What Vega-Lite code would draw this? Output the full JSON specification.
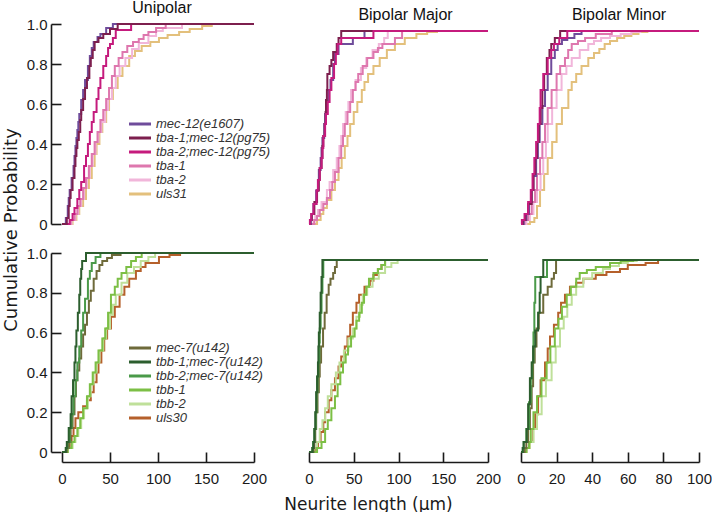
{
"$schema":"https://vega.github.io/schema/vega-lite/v6.json",
"padding":{"left":3,"top":0,"right":0,"bottom":0},
"autosize":{"type":"pad"},
"title":{"text":"Cumulative Probability","orient":"left","anchor":"middle","frame":"bounds","font":"DejaVu Sans","fontSize":18,"fontWeight":"normal","color":"#1a1a1a","offset":5,"dx":26},
"columns":3,"align":"each","bounds":"full","spacing":{"row":14,"column":10},
"resolve":{"scale":{"x":"independent","y":"independent","color":"independent"},"legend":{"color":"independent"}},
"config":{
 "font":"Liberation Sans",
 "view":{"stroke":null},
 "axis":{"grid":false,"labelFlush":false,"domainColor":"#1a1a1a","tickColor":"#1a1a1a","domainWidth":1.6,"tickWidth":1.6,"labelColor":"#1a1a1a","labelFontSize":15,"labelFont":"Liberation Sans","titleFont":"DejaVu Sans","titleFontWeight":"normal","titleColor":"#1a1a1a","titleFontSize":17},
 "title":{"fontSize":16,"fontWeight":"normal","color":"#111111","font":"Liberation Sans","offset":1},
 "legend":{"symbolType":"stroke","symbolSize":484,"symbolStrokeWidth":3,"clipHeight":13,"labelFont":"Liberation Sans","labelFontStyle":"italic","labelFontSize":13,"labelColor":"#333333","labelOffset":3.5,"rowPadding":-1.2,"padding":0,"title":null}
},
"datasets":{
"ut":[
{"g":"uls31","x":0,"p":0},{"g":"uls31","x":11,"p":0.02},{"g":"uls31","x":15,"p":0.05},{"g":"uls31","x":18,"p":0.09},{"g":"uls31","x":22,"p":0.125},{"g":"uls31","x":25,"p":0.18},{"g":"uls31","x":28,"p":0.23},{"g":"uls31","x":31,"p":0.29},{"g":"uls31","x":34,"p":0.35},{"g":"uls31","x":36,"p":0.4},{"g":"uls31","x":39,"p":0.46},{"g":"uls31","x":42,"p":0.51},{"g":"uls31","x":46,"p":0.57},{"g":"uls31","x":49,"p":0.625},{"g":"uls31","x":53,"p":0.68},{"g":"uls31","x":58,"p":0.74},{"g":"uls31","x":63,"p":0.79},{"g":"uls31","x":70,"p":0.84},{"g":"uls31","x":76,"p":0.865},{"g":"uls31","x":83,"p":0.89},{"g":"uls31","x":92,"p":0.91},{"g":"uls31","x":101,"p":0.93},{"g":"uls31","x":110,"p":0.945},{"g":"uls31","x":122,"p":0.96},{"g":"uls31","x":133,"p":0.975},{"g":"uls31","x":146,"p":0.99},{"g":"uls31","x":156,"p":1},{"g":"uls31","x":200,"p":1},
{"g":"tba-2","x":0,"p":0},{"g":"tba-2","x":10,"p":0.02},{"g":"tba-2","x":14,"p":0.05},{"g":"tba-2","x":17,"p":0.09},{"g":"tba-2","x":20,"p":0.125},{"g":"tba-2","x":23,"p":0.18},{"g":"tba-2","x":26,"p":0.23},{"g":"tba-2","x":29,"p":0.29},{"g":"tba-2","x":32,"p":0.35},{"g":"tba-2","x":35,"p":0.41},{"g":"tba-2","x":38,"p":0.46},{"g":"tba-2","x":41,"p":0.51},{"g":"tba-2","x":45,"p":0.57},{"g":"tba-2","x":48,"p":0.625},{"g":"tba-2","x":52,"p":0.68},{"g":"tba-2","x":56,"p":0.74},{"g":"tba-2","x":60,"p":0.79},{"g":"tba-2","x":66,"p":0.83},{"g":"tba-2","x":73,"p":0.875},{"g":"tba-2","x":80,"p":0.905},{"g":"tba-2","x":90,"p":0.94},{"g":"tba-2","x":98,"p":0.965},{"g":"tba-2","x":105,"p":0.98},{"g":"tba-2","x":125,"p":1},{"g":"tba-2","x":200,"p":1},
{"g":"tba-1","x":0,"p":0},{"g":"tba-1","x":9,"p":0.02},{"g":"tba-1","x":13,"p":0.05},{"g":"tba-1","x":16,"p":0.09},{"g":"tba-1","x":19,"p":0.125},{"g":"tba-1","x":22,"p":0.18},{"g":"tba-1","x":25,"p":0.23},{"g":"tba-1","x":28,"p":0.29},{"g":"tba-1","x":31,"p":0.35},{"g":"tba-1","x":34,"p":0.41},{"g":"tba-1","x":37,"p":0.46},{"g":"tba-1","x":40,"p":0.52},{"g":"tba-1","x":43,"p":0.57},{"g":"tba-1","x":46,"p":0.625},{"g":"tba-1","x":49,"p":0.68},{"g":"tba-1","x":52,"p":0.74},{"g":"tba-1","x":55,"p":0.79},{"g":"tba-1","x":59,"p":0.83},{"g":"tba-1","x":63,"p":0.86},{"g":"tba-1","x":68,"p":0.89},{"g":"tba-1","x":74,"p":0.91},{"g":"tba-1","x":80,"p":0.925},{"g":"tba-1","x":85,"p":0.945},{"g":"tba-1","x":90,"p":0.96},{"g":"tba-1","x":98,"p":0.98},{"g":"tba-1","x":108,"p":1},{"g":"tba-1","x":200,"p":1},
{"g":"mec-12(e1607)","x":0,"p":0},{"g":"mec-12(e1607)","x":4,"p":0.03},{"g":"mec-12(e1607)","x":6,"p":0.09},{"g":"mec-12(e1607)","x":7,"p":0.13},{"g":"mec-12(e1607)","x":8,"p":0.17},{"g":"mec-12(e1607)","x":10,"p":0.23},{"g":"mec-12(e1607)","x":12,"p":0.29},{"g":"mec-12(e1607)","x":13,"p":0.34},{"g":"mec-12(e1607)","x":14,"p":0.39},{"g":"mec-12(e1607)","x":15,"p":0.43},{"g":"mec-12(e1607)","x":16,"p":0.47},{"g":"mec-12(e1607)","x":17,"p":0.51},{"g":"mec-12(e1607)","x":18,"p":0.55},{"g":"mec-12(e1607)","x":20,"p":0.62},{"g":"mec-12(e1607)","x":22,"p":0.67},{"g":"mec-12(e1607)","x":24,"p":0.72},{"g":"mec-12(e1607)","x":27,"p":0.79},{"g":"mec-12(e1607)","x":29,"p":0.84},{"g":"mec-12(e1607)","x":31,"p":0.88},{"g":"mec-12(e1607)","x":33,"p":0.91},{"g":"mec-12(e1607)","x":37,"p":0.935},{"g":"mec-12(e1607)","x":40,"p":0.95},{"g":"mec-12(e1607)","x":46,"p":0.98},{"g":"mec-12(e1607)","x":53,"p":1},{"g":"mec-12(e1607)","x":200,"p":1},
{"g":"tba-2;mec-12(pg75)","x":0,"p":0},{"g":"tba-2;mec-12(pg75)","x":8,"p":0.02},{"g":"tba-2;mec-12(pg75)","x":11,"p":0.05},{"g":"tba-2;mec-12(pg75)","x":13,"p":0.08},{"g":"tba-2;mec-12(pg75)","x":16,"p":0.125},{"g":"tba-2;mec-12(pg75)","x":18,"p":0.17},{"g":"tba-2;mec-12(pg75)","x":20,"p":0.21},{"g":"tba-2;mec-12(pg75)","x":23,"p":0.29},{"g":"tba-2;mec-12(pg75)","x":25,"p":0.34},{"g":"tba-2;mec-12(pg75)","x":27,"p":0.4},{"g":"tba-2;mec-12(pg75)","x":29,"p":0.46},{"g":"tba-2;mec-12(pg75)","x":31,"p":0.51},{"g":"tba-2;mec-12(pg75)","x":33,"p":0.56},{"g":"tba-2;mec-12(pg75)","x":36,"p":0.625},{"g":"tba-2;mec-12(pg75)","x":38,"p":0.68},{"g":"tba-2;mec-12(pg75)","x":40,"p":0.73},{"g":"tba-2;mec-12(pg75)","x":43,"p":0.79},{"g":"tba-2;mec-12(pg75)","x":46,"p":0.84},{"g":"tba-2;mec-12(pg75)","x":48,"p":0.88},{"g":"tba-2;mec-12(pg75)","x":50,"p":0.9},{"g":"tba-2;mec-12(pg75)","x":53,"p":0.93},{"g":"tba-2;mec-12(pg75)","x":56,"p":0.97},{"g":"tba-2;mec-12(pg75)","x":72,"p":1},{"g":"tba-2;mec-12(pg75)","x":200,"p":1},
{"g":"tba-1;mec-12(pg75)","x":0,"p":0},{"g":"tba-1;mec-12(pg75)","x":5,"p":0.03},{"g":"tba-1;mec-12(pg75)","x":7,"p":0.09},{"g":"tba-1;mec-12(pg75)","x":8,"p":0.13},{"g":"tba-1;mec-12(pg75)","x":9,"p":0.17},{"g":"tba-1;mec-12(pg75)","x":11,"p":0.23},{"g":"tba-1;mec-12(pg75)","x":13,"p":0.29},{"g":"tba-1;mec-12(pg75)","x":14,"p":0.34},{"g":"tba-1;mec-12(pg75)","x":15,"p":0.38},{"g":"tba-1;mec-12(pg75)","x":16,"p":0.42},{"g":"tba-1;mec-12(pg75)","x":17.5,"p":0.46},{"g":"tba-1;mec-12(pg75)","x":19,"p":0.52},{"g":"tba-1;mec-12(pg75)","x":20,"p":0.57},{"g":"tba-1;mec-12(pg75)","x":22,"p":0.625},{"g":"tba-1;mec-12(pg75)","x":24,"p":0.68},{"g":"tba-1;mec-12(pg75)","x":26,"p":0.73},{"g":"tba-1;mec-12(pg75)","x":28.5,"p":0.79},{"g":"tba-1;mec-12(pg75)","x":30,"p":0.83},{"g":"tba-1;mec-12(pg75)","x":32,"p":0.87},{"g":"tba-1;mec-12(pg75)","x":34,"p":0.91},{"g":"tba-1;mec-12(pg75)","x":38,"p":0.93},{"g":"tba-1;mec-12(pg75)","x":43,"p":0.95},{"g":"tba-1;mec-12(pg75)","x":50,"p":0.975},{"g":"tba-1;mec-12(pg75)","x":58,"p":1},{"g":"tba-1;mec-12(pg75)","x":200,"p":1}
],
"ub":[
{"g":"uls30","x":0,"p":0},{"g":"uls30","x":5,"p":0.02},{"g":"uls30","x":8,"p":0.05},{"g":"uls30","x":10,"p":0.08},{"g":"uls30","x":12,"p":0.12},{"g":"uls30","x":14,"p":0.17},{"g":"uls30","x":17,"p":0.2},{"g":"uls30","x":22,"p":0.23},{"g":"uls30","x":26,"p":0.26},{"g":"uls30","x":30,"p":0.3},{"g":"uls30","x":33,"p":0.35},{"g":"uls30","x":36,"p":0.4},{"g":"uls30","x":38,"p":0.45},{"g":"uls30","x":41,"p":0.51},{"g":"uls30","x":44,"p":0.57},{"g":"uls30","x":47,"p":0.62},{"g":"uls30","x":51,"p":0.68},{"g":"uls30","x":55,"p":0.73},{"g":"uls30","x":60,"p":0.79},{"g":"uls30","x":65,"p":0.83},{"g":"uls30","x":70,"p":0.87},{"g":"uls30","x":77,"p":0.91},{"g":"uls30","x":82,"p":0.93},{"g":"uls30","x":87,"p":0.95},{"g":"uls30","x":101,"p":0.98},{"g":"uls30","x":112,"p":0.99},{"g":"uls30","x":123,"p":1},{"g":"uls30","x":200,"p":1},
{"g":"tbb-2","x":0,"p":0},{"g":"tbb-2","x":6,"p":0.02},{"g":"tbb-2","x":11,"p":0.05},{"g":"tbb-2","x":14,"p":0.08},{"g":"tbb-2","x":17,"p":0.12},{"g":"tbb-2","x":20,"p":0.17},{"g":"tbb-2","x":23,"p":0.22},{"g":"tbb-2","x":27,"p":0.28},{"g":"tbb-2","x":30,"p":0.34},{"g":"tbb-2","x":33,"p":0.4},{"g":"tbb-2","x":36,"p":0.45},{"g":"tbb-2","x":39,"p":0.51},{"g":"tbb-2","x":43,"p":0.57},{"g":"tbb-2","x":46,"p":0.62},{"g":"tbb-2","x":50,"p":0.69},{"g":"tbb-2","x":53,"p":0.74},{"g":"tbb-2","x":56,"p":0.79},{"g":"tbb-2","x":62,"p":0.85},{"g":"tbb-2","x":68,"p":0.9},{"g":"tbb-2","x":75,"p":0.93},{"g":"tbb-2","x":82,"p":0.96},{"g":"tbb-2","x":90,"p":0.98},{"g":"tbb-2","x":97,"p":1},{"g":"tbb-2","x":200,"p":1},
{"g":"tbb-1","x":0,"p":0},{"g":"tbb-1","x":6,"p":0.02},{"g":"tbb-1","x":10,"p":0.05},{"g":"tbb-1","x":13,"p":0.08},{"g":"tbb-1","x":16,"p":0.12},{"g":"tbb-1","x":19,"p":0.17},{"g":"tbb-1","x":22,"p":0.22},{"g":"tbb-1","x":26,"p":0.28},{"g":"tbb-1","x":29,"p":0.34},{"g":"tbb-1","x":32,"p":0.4},{"g":"tbb-1","x":35,"p":0.45},{"g":"tbb-1","x":38,"p":0.51},{"g":"tbb-1","x":42,"p":0.57},{"g":"tbb-1","x":45,"p":0.62},{"g":"tbb-1","x":48,"p":0.7},{"g":"tbb-1","x":51,"p":0.79},{"g":"tbb-1","x":55,"p":0.83},{"g":"tbb-1","x":58,"p":0.87},{"g":"tbb-1","x":62,"p":0.9},{"g":"tbb-1","x":67,"p":0.93},{"g":"tbb-1","x":72,"p":0.96},{"g":"tbb-1","x":77,"p":0.98},{"g":"tbb-1","x":83,"p":1},{"g":"tbb-1","x":200,"p":1},
{"g":"mec-7(u142)","x":0,"p":0},{"g":"mec-7(u142)","x":5,"p":0.02},{"g":"mec-7(u142)","x":7,"p":0.05},{"g":"mec-7(u142)","x":9,"p":0.12},{"g":"mec-7(u142)","x":11,"p":0.19},{"g":"mec-7(u142)","x":13,"p":0.28},{"g":"mec-7(u142)","x":14.5,"p":0.36},{"g":"mec-7(u142)","x":16,"p":0.41},{"g":"mec-7(u142)","x":18,"p":0.47},{"g":"mec-7(u142)","x":20,"p":0.53},{"g":"mec-7(u142)","x":22,"p":0.59},{"g":"mec-7(u142)","x":24,"p":0.64},{"g":"mec-7(u142)","x":26,"p":0.7},{"g":"mec-7(u142)","x":28,"p":0.76},{"g":"mec-7(u142)","x":30,"p":0.81},{"g":"mec-7(u142)","x":33,"p":0.87},{"g":"mec-7(u142)","x":36,"p":0.91},{"g":"mec-7(u142)","x":39,"p":0.94},{"g":"mec-7(u142)","x":42,"p":0.96},{"g":"mec-7(u142)","x":47,"p":0.975},{"g":"mec-7(u142)","x":52,"p":0.99},{"g":"mec-7(u142)","x":61,"p":1},{"g":"mec-7(u142)","x":200,"p":1},
{"g":"tbb-2;mec-7(u142)","x":0,"p":0},{"g":"tbb-2;mec-7(u142)","x":4,"p":0.02},{"g":"tbb-2;mec-7(u142)","x":5.5,"p":0.05},{"g":"tbb-2;mec-7(u142)","x":8,"p":0.12},{"g":"tbb-2;mec-7(u142)","x":10,"p":0.19},{"g":"tbb-2;mec-7(u142)","x":12,"p":0.28},{"g":"tbb-2;mec-7(u142)","x":14,"p":0.36},{"g":"tbb-2;mec-7(u142)","x":16,"p":0.45},{"g":"tbb-2;mec-7(u142)","x":18,"p":0.53},{"g":"tbb-2;mec-7(u142)","x":20,"p":0.61},{"g":"tbb-2;mec-7(u142)","x":22,"p":0.7},{"g":"tbb-2;mec-7(u142)","x":24,"p":0.77},{"g":"tbb-2;mec-7(u142)","x":27,"p":0.87},{"g":"tbb-2;mec-7(u142)","x":29,"p":0.91},{"g":"tbb-2;mec-7(u142)","x":31,"p":0.95},{"g":"tbb-2;mec-7(u142)","x":35,"p":0.98},{"g":"tbb-2;mec-7(u142)","x":40,"p":1},{"g":"tbb-2;mec-7(u142)","x":200,"p":1},
{"g":"tbb-1;mec-7(u142)","x":0,"p":0},{"g":"tbb-1;mec-7(u142)","x":4,"p":0.02},{"g":"tbb-1;mec-7(u142)","x":5,"p":0.05},{"g":"tbb-1;mec-7(u142)","x":7,"p":0.12},{"g":"tbb-1;mec-7(u142)","x":9,"p":0.19},{"g":"tbb-1;mec-7(u142)","x":10,"p":0.28},{"g":"tbb-1;mec-7(u142)","x":11.5,"p":0.36},{"g":"tbb-1;mec-7(u142)","x":13,"p":0.45},{"g":"tbb-1;mec-7(u142)","x":14,"p":0.53},{"g":"tbb-1;mec-7(u142)","x":15,"p":0.61},{"g":"tbb-1;mec-7(u142)","x":16.5,"p":0.7},{"g":"tbb-1;mec-7(u142)","x":18,"p":0.79},{"g":"tbb-1;mec-7(u142)","x":19,"p":0.87},{"g":"tbb-1;mec-7(u142)","x":20,"p":0.92},{"g":"tbb-1;mec-7(u142)","x":21,"p":0.96},{"g":"tbb-1;mec-7(u142)","x":25,"p":1},{"g":"tbb-1;mec-7(u142)","x":200,"p":1}
],
"mt":[
{"g":"uls31","x":0,"p":0},{"g":"uls31","x":9,"p":0.02},{"g":"uls31","x":13,"p":0.05},{"g":"uls31","x":16,"p":0.08},{"g":"uls31","x":20,"p":0.12},{"g":"uls31","x":25,"p":0.17},{"g":"uls31","x":29,"p":0.22},{"g":"uls31","x":33,"p":0.28},{"g":"uls31","x":36.5,"p":0.33},{"g":"uls31","x":40,"p":0.39},{"g":"uls31","x":43,"p":0.44},{"g":"uls31","x":46,"p":0.5},{"g":"uls31","x":50,"p":0.56},{"g":"uls31","x":54,"p":0.61},{"g":"uls31","x":59,"p":0.67},{"g":"uls31","x":62,"p":0.71},{"g":"uls31","x":66,"p":0.75},{"g":"uls31","x":72,"p":0.79},{"g":"uls31","x":79,"p":0.83},{"g":"uls31","x":87,"p":0.87},{"g":"uls31","x":96,"p":0.9},{"g":"uls31","x":107,"p":0.93},{"g":"uls31","x":120,"p":0.95},{"g":"uls31","x":132,"p":0.96},{"g":"uls31","x":143,"p":0.965},{"g":"uls31","x":200,"p":0.965},
{"g":"tba-2","x":0,"p":0},{"g":"tba-2","x":5,"p":0.02},{"g":"tba-2","x":7,"p":0.04},{"g":"tba-2","x":10,"p":0.07},{"g":"tba-2","x":14,"p":0.11},{"g":"tba-2","x":20,"p":0.17},{"g":"tba-2","x":23,"p":0.21},{"g":"tba-2","x":27,"p":0.27},{"g":"tba-2","x":31,"p":0.33},{"g":"tba-2","x":34,"p":0.39},{"g":"tba-2","x":36,"p":0.44},{"g":"tba-2","x":38,"p":0.5},{"g":"tba-2","x":41,"p":0.56},{"g":"tba-2","x":44,"p":0.61},{"g":"tba-2","x":47,"p":0.67},{"g":"tba-2","x":52,"p":0.72},{"g":"tba-2","x":58,"p":0.78},{"g":"tba-2","x":64,"p":0.83},{"g":"tba-2","x":71,"p":0.87},{"g":"tba-2","x":78,"p":0.9},{"g":"tba-2","x":84,"p":0.93},{"g":"tba-2","x":88,"p":0.965},{"g":"tba-2","x":200,"p":0.965},
{"g":"tba-1","x":0,"p":0},{"g":"tba-1","x":6,"p":0.02},{"g":"tba-1","x":9,"p":0.04},{"g":"tba-1","x":12,"p":0.07},{"g":"tba-1","x":16,"p":0.1},{"g":"tba-1","x":20,"p":0.13},{"g":"tba-1","x":23.5,"p":0.17},{"g":"tba-1","x":26,"p":0.21},{"g":"tba-1","x":29,"p":0.26},{"g":"tba-1","x":33,"p":0.33},{"g":"tba-1","x":36,"p":0.39},{"g":"tba-1","x":38,"p":0.44},{"g":"tba-1","x":40,"p":0.5},{"g":"tba-1","x":43,"p":0.56},{"g":"tba-1","x":46,"p":0.61},{"g":"tba-1","x":49,"p":0.67},{"g":"tba-1","x":52,"p":0.71},{"g":"tba-1","x":55,"p":0.75},{"g":"tba-1","x":60,"p":0.79},{"g":"tba-1","x":65,"p":0.83},{"g":"tba-1","x":72,"p":0.86},{"g":"tba-1","x":77,"p":0.88},{"g":"tba-1","x":82,"p":0.9},{"g":"tba-1","x":96,"p":0.93},{"g":"tba-1","x":104,"p":0.965},{"g":"tba-1","x":200,"p":0.965},
{"g":"mec-12(e1607)","x":0,"p":0},{"g":"mec-12(e1607)","x":2,"p":0.02},{"g":"mec-12(e1607)","x":3,"p":0.05},{"g":"mec-12(e1607)","x":5,"p":0.1},{"g":"mec-12(e1607)","x":8,"p":0.167},{"g":"mec-12(e1607)","x":10,"p":0.22},{"g":"mec-12(e1607)","x":11,"p":0.27},{"g":"mec-12(e1607)","x":13,"p":0.33},{"g":"mec-12(e1607)","x":14,"p":0.38},{"g":"mec-12(e1607)","x":15,"p":0.43},{"g":"mec-12(e1607)","x":17,"p":0.5},{"g":"mec-12(e1607)","x":18,"p":0.55},{"g":"mec-12(e1607)","x":20,"p":0.61},{"g":"mec-12(e1607)","x":22,"p":0.67},{"g":"mec-12(e1607)","x":24,"p":0.72},{"g":"mec-12(e1607)","x":27,"p":0.8},{"g":"mec-12(e1607)","x":29,"p":0.85},{"g":"mec-12(e1607)","x":33,"p":0.9},{"g":"mec-12(e1607)","x":49,"p":0.93},{"g":"mec-12(e1607)","x":62,"p":0.965},{"g":"mec-12(e1607)","x":200,"p":0.965},
{"g":"tba-1;mec-12(pg75)","x":0,"p":0},{"g":"tba-1;mec-12(pg75)","x":1.5,"p":0.02},{"g":"tba-1;mec-12(pg75)","x":3,"p":0.05},{"g":"tba-1;mec-12(pg75)","x":6,"p":0.11},{"g":"tba-1;mec-12(pg75)","x":9,"p":0.167},{"g":"tba-1;mec-12(pg75)","x":11,"p":0.22},{"g":"tba-1;mec-12(pg75)","x":12,"p":0.28},{"g":"tba-1;mec-12(pg75)","x":14,"p":0.33},{"g":"tba-1;mec-12(pg75)","x":15,"p":0.39},{"g":"tba-1;mec-12(pg75)","x":16,"p":0.44},{"g":"tba-1;mec-12(pg75)","x":17.5,"p":0.5},{"g":"tba-1;mec-12(pg75)","x":18.5,"p":0.56},{"g":"tba-1;mec-12(pg75)","x":19,"p":0.62},{"g":"tba-1;mec-12(pg75)","x":20,"p":0.67},{"g":"tba-1;mec-12(pg75)","x":20.5,"p":0.75},{"g":"tba-1;mec-12(pg75)","x":23,"p":0.79},{"g":"tba-1;mec-12(pg75)","x":25,"p":0.82},{"g":"tba-1;mec-12(pg75)","x":27,"p":0.86},{"g":"tba-1;mec-12(pg75)","x":31,"p":0.9},{"g":"tba-1;mec-12(pg75)","x":33,"p":0.93},{"g":"tba-1;mec-12(pg75)","x":36,"p":0.965},{"g":"tba-1;mec-12(pg75)","x":200,"p":0.965},
{"g":"tba-2;mec-12(pg75)","x":0,"p":0},{"g":"tba-2;mec-12(pg75)","x":1,"p":0.02},{"g":"tba-2;mec-12(pg75)","x":2.5,"p":0.05},{"g":"tba-2;mec-12(pg75)","x":5,"p":0.1},{"g":"tba-2;mec-12(pg75)","x":8.5,"p":0.167},{"g":"tba-2;mec-12(pg75)","x":10,"p":0.22},{"g":"tba-2;mec-12(pg75)","x":12,"p":0.28},{"g":"tba-2;mec-12(pg75)","x":14,"p":0.33},{"g":"tba-2;mec-12(pg75)","x":15,"p":0.38},{"g":"tba-2;mec-12(pg75)","x":16,"p":0.44},{"g":"tba-2;mec-12(pg75)","x":18,"p":0.5},{"g":"tba-2;mec-12(pg75)","x":19,"p":0.55},{"g":"tba-2;mec-12(pg75)","x":21,"p":0.61},{"g":"tba-2;mec-12(pg75)","x":23,"p":0.67},{"g":"tba-2;mec-12(pg75)","x":25,"p":0.73},{"g":"tba-2;mec-12(pg75)","x":28,"p":0.8},{"g":"tba-2;mec-12(pg75)","x":30,"p":0.85},{"g":"tba-2;mec-12(pg75)","x":32,"p":0.9},{"g":"tba-2;mec-12(pg75)","x":36,"p":0.93},{"g":"tba-2;mec-12(pg75)","x":72,"p":0.965},{"g":"tba-2;mec-12(pg75)","x":200,"p":0.965}
],
"mb":[
{"g":"uls30","x":0,"p":0},{"g":"uls30","x":7,"p":0.02},{"g":"uls30","x":10,"p":0.05},{"g":"uls30","x":13,"p":0.1},{"g":"uls30","x":16,"p":0.15},{"g":"uls30","x":18,"p":0.2},{"g":"uls30","x":22,"p":0.26},{"g":"uls30","x":25,"p":0.31},{"g":"uls30","x":29,"p":0.37},{"g":"uls30","x":33,"p":0.43},{"g":"uls30","x":36,"p":0.48},{"g":"uls30","x":40,"p":0.53},{"g":"uls30","x":43,"p":0.58},{"g":"uls30","x":46,"p":0.64},{"g":"uls30","x":49,"p":0.7},{"g":"uls30","x":53,"p":0.75},{"g":"uls30","x":56,"p":0.79},{"g":"uls30","x":62,"p":0.83},{"g":"uls30","x":68,"p":0.86},{"g":"uls30","x":72,"p":0.89},{"g":"uls30","x":77,"p":0.92},{"g":"uls30","x":81,"p":0.94},{"g":"uls30","x":85,"p":0.965},{"g":"uls30","x":200,"p":0.965},
{"g":"tbb-2","x":0,"p":0},{"g":"tbb-2","x":6,"p":0.02},{"g":"tbb-2","x":9,"p":0.05},{"g":"tbb-2","x":12,"p":0.115},{"g":"tbb-2","x":15,"p":0.16},{"g":"tbb-2","x":18,"p":0.22},{"g":"tbb-2","x":21,"p":0.28},{"g":"tbb-2","x":25,"p":0.34},{"g":"tbb-2","x":30,"p":0.4},{"g":"tbb-2","x":34,"p":0.45},{"g":"tbb-2","x":39,"p":0.51},{"g":"tbb-2","x":44,"p":0.57},{"g":"tbb-2","x":49,"p":0.62},{"g":"tbb-2","x":53,"p":0.68},{"g":"tbb-2","x":57,"p":0.74},{"g":"tbb-2","x":60,"p":0.79},{"g":"tbb-2","x":65,"p":0.83},{"g":"tbb-2","x":71,"p":0.87},{"g":"tbb-2","x":78,"p":0.9},{"g":"tbb-2","x":85,"p":0.93},{"g":"tbb-2","x":92,"p":0.95},{"g":"tbb-2","x":99,"p":0.965},{"g":"tbb-2","x":200,"p":0.965},
{"g":"tbb-1","x":0,"p":0},{"g":"tbb-1","x":9,"p":0.02},{"g":"tbb-1","x":14,"p":0.05},{"g":"tbb-1","x":18,"p":0.115},{"g":"tbb-1","x":21,"p":0.16},{"g":"tbb-1","x":25,"p":0.22},{"g":"tbb-1","x":29,"p":0.28},{"g":"tbb-1","x":32,"p":0.34},{"g":"tbb-1","x":35,"p":0.4},{"g":"tbb-1","x":38,"p":0.45},{"g":"tbb-1","x":41,"p":0.49},{"g":"tbb-1","x":43.6,"p":0.53},{"g":"tbb-1","x":47,"p":0.58},{"g":"tbb-1","x":51,"p":0.62},{"g":"tbb-1","x":53,"p":0.66},{"g":"tbb-1","x":56,"p":0.7},{"g":"tbb-1","x":59,"p":0.75},{"g":"tbb-1","x":61.5,"p":0.79},{"g":"tbb-1","x":64,"p":0.83},{"g":"tbb-1","x":67,"p":0.87},{"g":"tbb-1","x":72,"p":0.9},{"g":"tbb-1","x":77,"p":0.92},{"g":"tbb-1","x":81,"p":0.94},{"g":"tbb-1","x":85,"p":0.965},{"g":"tbb-1","x":200,"p":0.965},
{"g":"mec-7(u142)","x":0,"p":0},{"g":"mec-7(u142)","x":5,"p":0.02},{"g":"mec-7(u142)","x":6,"p":0.05},{"g":"mec-7(u142)","x":7,"p":0.115},{"g":"mec-7(u142)","x":8,"p":0.2},{"g":"mec-7(u142)","x":9.5,"p":0.3},{"g":"mec-7(u142)","x":11,"p":0.38},{"g":"mec-7(u142)","x":12,"p":0.45},{"g":"mec-7(u142)","x":13.5,"p":0.53},{"g":"mec-7(u142)","x":15.7,"p":0.62},{"g":"mec-7(u142)","x":17.5,"p":0.7},{"g":"mec-7(u142)","x":19.7,"p":0.79},{"g":"mec-7(u142)","x":22,"p":0.84},{"g":"mec-7(u142)","x":24,"p":0.87},{"g":"mec-7(u142)","x":27,"p":0.9},{"g":"mec-7(u142)","x":29,"p":0.93},{"g":"mec-7(u142)","x":31,"p":0.965},{"g":"mec-7(u142)","x":200,"p":0.965},
{"g":"tbb-2;mec-7(u142)","x":0,"p":0},{"g":"tbb-2;mec-7(u142)","x":3.5,"p":0.02},{"g":"tbb-2;mec-7(u142)","x":4.5,"p":0.05},{"g":"tbb-2;mec-7(u142)","x":6,"p":0.115},{"g":"tbb-2;mec-7(u142)","x":7.5,"p":0.2},{"g":"tbb-2;mec-7(u142)","x":8.5,"p":0.3},{"g":"tbb-2;mec-7(u142)","x":9.5,"p":0.38},{"g":"tbb-2;mec-7(u142)","x":10.5,"p":0.45},{"g":"tbb-2;mec-7(u142)","x":11.5,"p":0.55},{"g":"tbb-2;mec-7(u142)","x":12,"p":0.62},{"g":"tbb-2;mec-7(u142)","x":13,"p":0.7},{"g":"tbb-2;mec-7(u142)","x":14,"p":0.8},{"g":"tbb-2;mec-7(u142)","x":15,"p":0.88},{"g":"tbb-2;mec-7(u142)","x":16,"p":0.965},{"g":"tbb-2;mec-7(u142)","x":200,"p":0.965},
{"g":"tbb-1;mec-7(u142)","x":0,"p":0},{"g":"tbb-1;mec-7(u142)","x":4,"p":0.02},{"g":"tbb-1;mec-7(u142)","x":5,"p":0.05},{"g":"tbb-1;mec-7(u142)","x":6,"p":0.115},{"g":"tbb-1;mec-7(u142)","x":7,"p":0.2},{"g":"tbb-1;mec-7(u142)","x":8,"p":0.3},{"g":"tbb-1;mec-7(u142)","x":9,"p":0.38},{"g":"tbb-1;mec-7(u142)","x":10,"p":0.45},{"g":"tbb-1;mec-7(u142)","x":10.5,"p":0.53},{"g":"tbb-1;mec-7(u142)","x":11,"p":0.6},{"g":"tbb-1;mec-7(u142)","x":12,"p":0.7},{"g":"tbb-1;mec-7(u142)","x":13,"p":0.8},{"g":"tbb-1;mec-7(u142)","x":14,"p":0.88},{"g":"tbb-1;mec-7(u142)","x":15,"p":0.965},{"g":"tbb-1;mec-7(u142)","x":200,"p":0.965}
],
"nt":[
{"g":"uls31","x":0,"p":0},{"g":"uls31","x":5,"p":0.01},{"g":"uls31","x":7.5,"p":0.03},{"g":"uls31","x":9,"p":0.09},{"g":"uls31","x":10.7,"p":0.17},{"g":"uls31","x":13,"p":0.25},{"g":"uls31","x":15,"p":0.33},{"g":"uls31","x":17.5,"p":0.41},{"g":"uls31","x":20,"p":0.5},{"g":"uls31","x":23,"p":0.58},{"g":"uls31","x":26.6,"p":0.67},{"g":"uls31","x":28.5,"p":0.71},{"g":"uls31","x":31,"p":0.75},{"g":"uls31","x":34,"p":0.79},{"g":"uls31","x":37.8,"p":0.83},{"g":"uls31","x":41,"p":0.855},{"g":"uls31","x":44,"p":0.875},{"g":"uls31","x":47,"p":0.9},{"g":"uls31","x":50,"p":0.915},{"g":"uls31","x":54,"p":0.93},{"g":"uls31","x":58,"p":0.94},{"g":"uls31","x":62,"p":0.95},{"g":"uls31","x":66,"p":0.96},{"g":"uls31","x":71,"p":0.965},{"g":"uls31","x":100,"p":0.965},
{"g":"tba-2","x":0,"p":0},{"g":"tba-2","x":3,"p":0.02},{"g":"tba-2","x":5,"p":0.05},{"g":"tba-2","x":7,"p":0.11},{"g":"tba-2","x":9,"p":0.17},{"g":"tba-2","x":11,"p":0.25},{"g":"tba-2","x":12.5,"p":0.33},{"g":"tba-2","x":14,"p":0.41},{"g":"tba-2","x":15,"p":0.5},{"g":"tba-2","x":17.5,"p":0.58},{"g":"tba-2","x":20,"p":0.67},{"g":"tba-2","x":22.8,"p":0.75},{"g":"tba-2","x":25.5,"p":0.79},{"g":"tba-2","x":28.5,"p":0.83},{"g":"tba-2","x":33,"p":0.87},{"g":"tba-2","x":37.8,"p":0.9},{"g":"tba-2","x":41,"p":0.915},{"g":"tba-2","x":45,"p":0.93},{"g":"tba-2","x":50,"p":0.94},{"g":"tba-2","x":56,"p":0.95},{"g":"tba-2","x":62,"p":0.96},{"g":"tba-2","x":67,"p":0.965},{"g":"tba-2","x":100,"p":0.965},
{"g":"tba-1","x":0,"p":0},{"g":"tba-1","x":2,"p":0.02},{"g":"tba-1","x":4,"p":0.05},{"g":"tba-1","x":6,"p":0.11},{"g":"tba-1","x":7.9,"p":0.17},{"g":"tba-1","x":9,"p":0.25},{"g":"tba-1","x":10.7,"p":0.33},{"g":"tba-1","x":12,"p":0.41},{"g":"tba-1","x":13.5,"p":0.5},{"g":"tba-1","x":15,"p":0.58},{"g":"tba-1","x":17.2,"p":0.67},{"g":"tba-1","x":20,"p":0.75},{"g":"tba-1","x":22,"p":0.79},{"g":"tba-1","x":24.7,"p":0.83},{"g":"tba-1","x":26.5,"p":0.87},{"g":"tba-1","x":28.5,"p":0.9},{"g":"tba-1","x":32,"p":0.915},{"g":"tba-1","x":36,"p":0.93},{"g":"tba-1","x":42,"p":0.95},{"g":"tba-1","x":51,"p":0.965},{"g":"tba-1","x":100,"p":0.965},
{"g":"mec-12(e1607)","x":0,"p":0},{"g":"mec-12(e1607)","x":1.5,"p":0.02},{"g":"mec-12(e1607)","x":3,"p":0.05},{"g":"mec-12(e1607)","x":4.5,"p":0.11},{"g":"mec-12(e1607)","x":6,"p":0.17},{"g":"mec-12(e1607)","x":7,"p":0.24},{"g":"mec-12(e1607)","x":8.5,"p":0.33},{"g":"mec-12(e1607)","x":9.5,"p":0.41},{"g":"mec-12(e1607)","x":10.5,"p":0.5},{"g":"mec-12(e1607)","x":12,"p":0.59},{"g":"mec-12(e1607)","x":13.5,"p":0.67},{"g":"mec-12(e1607)","x":15,"p":0.75},{"g":"mec-12(e1607)","x":17,"p":0.83},{"g":"mec-12(e1607)","x":19,"p":0.87},{"g":"mec-12(e1607)","x":20.6,"p":0.9},{"g":"mec-12(e1607)","x":23,"p":0.92},{"g":"mec-12(e1607)","x":26,"p":0.93},{"g":"mec-12(e1607)","x":30,"p":0.95},{"g":"mec-12(e1607)","x":34,"p":0.965},{"g":"mec-12(e1607)","x":100,"p":0.965},
{"g":"tba-1;mec-12(pg75)","x":0,"p":0},{"g":"tba-1;mec-12(pg75)","x":1,"p":0.02},{"g":"tba-1;mec-12(pg75)","x":2.5,"p":0.05},{"g":"tba-1;mec-12(pg75)","x":4,"p":0.1},{"g":"tba-1;mec-12(pg75)","x":6,"p":0.17},{"g":"tba-1;mec-12(pg75)","x":7,"p":0.25},{"g":"tba-1;mec-12(pg75)","x":8,"p":0.33},{"g":"tba-1;mec-12(pg75)","x":9,"p":0.41},{"g":"tba-1;mec-12(pg75)","x":10,"p":0.5},{"g":"tba-1;mec-12(pg75)","x":11,"p":0.58},{"g":"tba-1;mec-12(pg75)","x":12,"p":0.67},{"g":"tba-1;mec-12(pg75)","x":13,"p":0.75},{"g":"tba-1;mec-12(pg75)","x":14.5,"p":0.83},{"g":"tba-1;mec-12(pg75)","x":16,"p":0.87},{"g":"tba-1;mec-12(pg75)","x":17,"p":0.9},{"g":"tba-1;mec-12(pg75)","x":19,"p":0.93},{"g":"tba-1;mec-12(pg75)","x":22,"p":0.965},{"g":"tba-1;mec-12(pg75)","x":100,"p":0.965},
{"g":"tba-2;mec-12(pg75)","x":0,"p":0},{"g":"tba-2;mec-12(pg75)","x":0.5,"p":0.02},{"g":"tba-2;mec-12(pg75)","x":2,"p":0.05},{"g":"tba-2;mec-12(pg75)","x":4,"p":0.11},{"g":"tba-2;mec-12(pg75)","x":5.5,"p":0.17},{"g":"tba-2;mec-12(pg75)","x":6.5,"p":0.25},{"g":"tba-2;mec-12(pg75)","x":7.5,"p":0.33},{"g":"tba-2;mec-12(pg75)","x":8.5,"p":0.41},{"g":"tba-2;mec-12(pg75)","x":9.5,"p":0.5},{"g":"tba-2;mec-12(pg75)","x":10.5,"p":0.58},{"g":"tba-2;mec-12(pg75)","x":11,"p":0.67},{"g":"tba-2;mec-12(pg75)","x":12.5,"p":0.75},{"g":"tba-2;mec-12(pg75)","x":15,"p":0.83},{"g":"tba-2;mec-12(pg75)","x":17,"p":0.87},{"g":"tba-2;mec-12(pg75)","x":18.5,"p":0.9},{"g":"tba-2;mec-12(pg75)","x":21.5,"p":0.93},{"g":"tba-2;mec-12(pg75)","x":26,"p":0.965},{"g":"tba-2;mec-12(pg75)","x":100,"p":0.965}
],
"nb":[
{"g":"uls30","x":0,"p":0},{"g":"uls30","x":3,"p":0.02},{"g":"uls30","x":5,"p":0.05},{"g":"uls30","x":6.8,"p":0.115},{"g":"uls30","x":8,"p":0.19},{"g":"uls30","x":9.6,"p":0.28},{"g":"uls30","x":11,"p":0.36},{"g":"uls30","x":13.5,"p":0.45},{"g":"uls30","x":15,"p":0.52},{"g":"uls30","x":16.3,"p":0.58},{"g":"uls30","x":18.5,"p":0.64},{"g":"uls30","x":20.9,"p":0.7},{"g":"uls30","x":22.5,"p":0.75},{"g":"uls30","x":24.7,"p":0.79},{"g":"uls30","x":27.5,"p":0.83},{"g":"uls30","x":31,"p":0.85},{"g":"uls30","x":35,"p":0.87},{"g":"uls30","x":42,"p":0.89},{"g":"uls30","x":48,"p":0.905},{"g":"uls30","x":55.6,"p":0.92},{"g":"uls30","x":60,"p":0.94},{"g":"uls30","x":70,"p":0.95},{"g":"uls30","x":77,"p":0.965},{"g":"uls30","x":100,"p":0.965},
{"g":"tbb-2","x":0,"p":0},{"g":"tbb-2","x":3,"p":0.02},{"g":"tbb-2","x":5,"p":0.05},{"g":"tbb-2","x":7,"p":0.115},{"g":"tbb-2","x":9,"p":0.19},{"g":"tbb-2","x":11.6,"p":0.28},{"g":"tbb-2","x":14,"p":0.36},{"g":"tbb-2","x":17.2,"p":0.45},{"g":"tbb-2","x":19.5,"p":0.53},{"g":"tbb-2","x":21.9,"p":0.62},{"g":"tbb-2","x":24,"p":0.68},{"g":"tbb-2","x":26,"p":0.74},{"g":"tbb-2","x":28.5,"p":0.79},{"g":"tbb-2","x":31,"p":0.83},{"g":"tbb-2","x":35,"p":0.87},{"g":"tbb-2","x":40,"p":0.9},{"g":"tbb-2","x":46,"p":0.92},{"g":"tbb-2","x":50,"p":0.935},{"g":"tbb-2","x":55,"p":0.95},{"g":"tbb-2","x":60,"p":0.96},{"g":"tbb-2","x":65,"p":0.965},{"g":"tbb-2","x":100,"p":0.965},
{"g":"tbb-1","x":0,"p":0},{"g":"tbb-1","x":3,"p":0.02},{"g":"tbb-1","x":4.5,"p":0.05},{"g":"tbb-1","x":5.5,"p":0.115},{"g":"tbb-1","x":7,"p":0.2},{"g":"tbb-1","x":9,"p":0.28},{"g":"tbb-1","x":11.5,"p":0.37},{"g":"tbb-1","x":14.4,"p":0.45},{"g":"tbb-1","x":16.5,"p":0.53},{"g":"tbb-1","x":19,"p":0.62},{"g":"tbb-1","x":21,"p":0.67},{"g":"tbb-1","x":23,"p":0.73},{"g":"tbb-1","x":25.7,"p":0.79},{"g":"tbb-1","x":28,"p":0.83},{"g":"tbb-1","x":31,"p":0.87},{"g":"tbb-1","x":33,"p":0.9},{"g":"tbb-1","x":37,"p":0.915},{"g":"tbb-1","x":42,"p":0.93},{"g":"tbb-1","x":50,"p":0.95},{"g":"tbb-1","x":56,"p":0.96},{"g":"tbb-1","x":63,"p":0.965},{"g":"tbb-1","x":100,"p":0.965},
{"g":"mec-7(u142)","x":0,"p":0},{"g":"mec-7(u142)","x":2,"p":0.02},{"g":"mec-7(u142)","x":3,"p":0.05},{"g":"mec-7(u142)","x":4,"p":0.115},{"g":"mec-7(u142)","x":5,"p":0.22},{"g":"mec-7(u142)","x":6,"p":0.33},{"g":"mec-7(u142)","x":6.8,"p":0.45},{"g":"mec-7(u142)","x":7.7,"p":0.53},{"g":"mec-7(u142)","x":8.7,"p":0.62},{"g":"mec-7(u142)","x":10,"p":0.7},{"g":"mec-7(u142)","x":12.5,"p":0.79},{"g":"mec-7(u142)","x":15,"p":0.83},{"g":"mec-7(u142)","x":17.2,"p":0.87},{"g":"mec-7(u142)","x":18.5,"p":0.9},{"g":"mec-7(u142)","x":19.7,"p":0.965},{"g":"mec-7(u142)","x":100,"p":0.965},
{"g":"tbb-2;mec-7(u142)","x":0,"p":0},{"g":"tbb-2;mec-7(u142)","x":1,"p":0.02},{"g":"tbb-2;mec-7(u142)","x":1.5,"p":0.05},{"g":"tbb-2;mec-7(u142)","x":3,"p":0.115},{"g":"tbb-2;mec-7(u142)","x":4.5,"p":0.25},{"g":"tbb-2;mec-7(u142)","x":5.5,"p":0.37},{"g":"tbb-2;mec-7(u142)","x":6.3,"p":0.45},{"g":"tbb-2;mec-7(u142)","x":7,"p":0.6},{"g":"tbb-2;mec-7(u142)","x":7.5,"p":0.75},{"g":"tbb-2;mec-7(u142)","x":8,"p":0.88},{"g":"tbb-2;mec-7(u142)","x":14.6,"p":0.965},{"g":"tbb-2;mec-7(u142)","x":100,"p":0.965},
{"g":"tbb-1;mec-7(u142)","x":0,"p":0},{"g":"tbb-1;mec-7(u142)","x":1,"p":0.02},{"g":"tbb-1;mec-7(u142)","x":1.5,"p":0.05},{"g":"tbb-1;mec-7(u142)","x":3.2,"p":0.115},{"g":"tbb-1;mec-7(u142)","x":4,"p":0.24},{"g":"tbb-1;mec-7(u142)","x":5,"p":0.37},{"g":"tbb-1;mec-7(u142)","x":6,"p":0.45},{"g":"tbb-1;mec-7(u142)","x":6.8,"p":0.53},{"g":"tbb-1;mec-7(u142)","x":8,"p":0.61},{"g":"tbb-1;mec-7(u142)","x":9.6,"p":0.7},{"g":"tbb-1;mec-7(u142)","x":10.5,"p":0.8},{"g":"tbb-1;mec-7(u142)","x":11,"p":0.88},{"g":"tbb-1;mec-7(u142)","x":12.5,"p":0.965},{"g":"tbb-1;mec-7(u142)","x":100,"p":0.965}
]
},
"concat":[
{"width":192,"height":200,"title":{"text":"Unipolar","dx":4},"data":{"name":"ut"},
 "mark":{"type":"line","interpolate":"step-after","strokeWidth":2},
 "encoding":{
  "x":{"field":"x","type":"quantitative","scale":{"domain":[0,200],"nice":false,"zero":false},"axis":null},
  "y":{"field":"p","type":"quantitative","scale":{"domain":[0,1],"nice":false},"axis":{"values":[0,0.2,0.4,0.6,0.8,1],"labelExpr":"datum.value == 0 ? '0' : format(datum.value, '.1f')","offset":11,"tickSize":-10,"labelPadding":14,"title":null}},
  "color":{"field":"g","type":"nominal","scale":{"domain":["mec-12(e1607)","tba-1;mec-12(pg75)","tba-2;mec-12(pg75)","tba-1","tba-2","uls31"],"range":["#6f4c9b","#7d1f4e","#c51b7d","#de77ae","#f1b6da","#e3c07c"]},"legend":{"orient":"none","legendX":65.5,"legendY":93.5,"rowPadding":-1.6}}
 }},
{"width":179,"height":200,"title":{"text":"Bipolar Major","dx":7},"data":{"name":"mt"},
 "mark":{"type":"line","interpolate":"step-after","strokeWidth":2},
 "encoding":{
  "x":{"field":"x","type":"quantitative","scale":{"domain":[0,200],"nice":false,"zero":false},"axis":null},
  "y":{"field":"p","type":"quantitative","scale":{"domain":[0,1],"nice":false},"axis":{"labels":false,"ticks":false,"domain":true,"domainOpacity":0,"minExtent":28,"maxExtent":28,"offset":0,"title":null}},
  "color":{"field":"g","type":"nominal","scale":{"domain":["mec-12(e1607)","tba-1;mec-12(pg75)","tba-2;mec-12(pg75)","tba-1","tba-2","uls31"],"range":["#6f4c9b","#7d1f4e","#c51b7d","#de77ae","#f1b6da","#e3c07c"]},"legend":null}
 }},
{"width":178,"height":200,"title":{"text":"Bipolar Minor","dx":9},"data":{"name":"nt"},
 "mark":{"type":"line","interpolate":"step-after","strokeWidth":2},
 "encoding":{
  "x":{"field":"x","type":"quantitative","scale":{"domain":[0,100],"nice":false,"zero":false},"axis":null},
  "y":{"field":"p","type":"quantitative","scale":{"domain":[0,1],"nice":false},"axis":{"labels":false,"ticks":false,"domain":true,"domainOpacity":0,"minExtent":9.5,"maxExtent":9.5,"offset":0,"title":null}},
  "color":{"field":"g","type":"nominal","scale":{"domain":["mec-12(e1607)","tba-1;mec-12(pg75)","tba-2;mec-12(pg75)","tba-1","tba-2","uls31"],"range":["#6f4c9b","#7d1f4e","#c51b7d","#de77ae","#f1b6da","#e3c07c"]},"legend":null}
 }},
{"width":192,"height":199,"data":{"name":"ub"},
 "mark":{"type":"line","interpolate":"step-after","strokeWidth":2},
 "encoding":{
  "x":{"field":"x","type":"quantitative","scale":{"domain":[0,200],"nice":false,"zero":false},"axis":{"values":[0,50,100,150,200],"format":"d","offset":10,"tickSize":-10,"labelPadding":19,"title":null}},
  "y":{"field":"p","type":"quantitative","scale":{"domain":[0,1],"nice":false},"axis":{"values":[0,0.2,0.4,0.6,0.8,1],"labelExpr":"datum.value == 0 ? '0' : format(datum.value, '.1f')","offset":11,"tickSize":-10,"labelPadding":14,"title":null}},
  "color":{"field":"g","type":"nominal","scale":{"domain":["mec-7(u142)","tbb-1;mec-7(u142)","tbb-2;mec-7(u142)","tbb-1","tbb-2","uls30"],"range":["#6e6a3a","#2c5e2e","#4a9a49","#7cbf45","#bfe09a","#b5602b"]},"legend":{"orient":"none","legendX":65.5,"legendY":88.5}}
 }},
{"width":179,"height":199,"data":{"name":"mb"},
 "mark":{"type":"line","interpolate":"step-after","strokeWidth":2},
 "encoding":{
  "x":{"field":"x","type":"quantitative","scale":{"domain":[0,200],"nice":false,"zero":false},"axis":{"values":[0,50,100,150,200],"format":"d","offset":10,"tickSize":-10,"labelPadding":19,"title":"Neurite length (µm)","titleX":59,"titlePadding":10}},
  "y":{"field":"p","type":"quantitative","scale":{"domain":[0,1],"nice":false},"axis":{"labels":false,"ticks":false,"domain":true,"domainOpacity":0,"minExtent":28,"maxExtent":28,"offset":0,"title":null}},
  "color":{"field":"g","type":"nominal","scale":{"domain":["mec-7(u142)","tbb-1;mec-7(u142)","tbb-2;mec-7(u142)","tbb-1","tbb-2","uls30"],"range":["#6e6a3a","#2c5e2e","#4a9a49","#7cbf45","#bfe09a","#b5602b"]},"legend":null}
 }},
{"width":178,"height":199,"data":{"name":"nb"},
 "mark":{"type":"line","interpolate":"step-after","strokeWidth":2},
 "encoding":{
  "x":{"field":"x","type":"quantitative","scale":{"domain":[0,100],"nice":false,"zero":false},"axis":{"values":[0,20,40,60,80,100],"format":"d","offset":10,"tickSize":-10,"labelPadding":19,"title":null}},
  "y":{"field":"p","type":"quantitative","scale":{"domain":[0,1],"nice":false},"axis":{"labels":false,"ticks":false,"domain":true,"domainOpacity":0,"minExtent":9.5,"maxExtent":9.5,"offset":0,"title":null}},
  "color":{"field":"g","type":"nominal","scale":{"domain":["mec-7(u142)","tbb-1;mec-7(u142)","tbb-2;mec-7(u142)","tbb-1","tbb-2","uls30"],"range":["#6e6a3a","#2c5e2e","#4a9a49","#7cbf45","#bfe09a","#b5602b"]},"legend":null}
 }}
]
}
